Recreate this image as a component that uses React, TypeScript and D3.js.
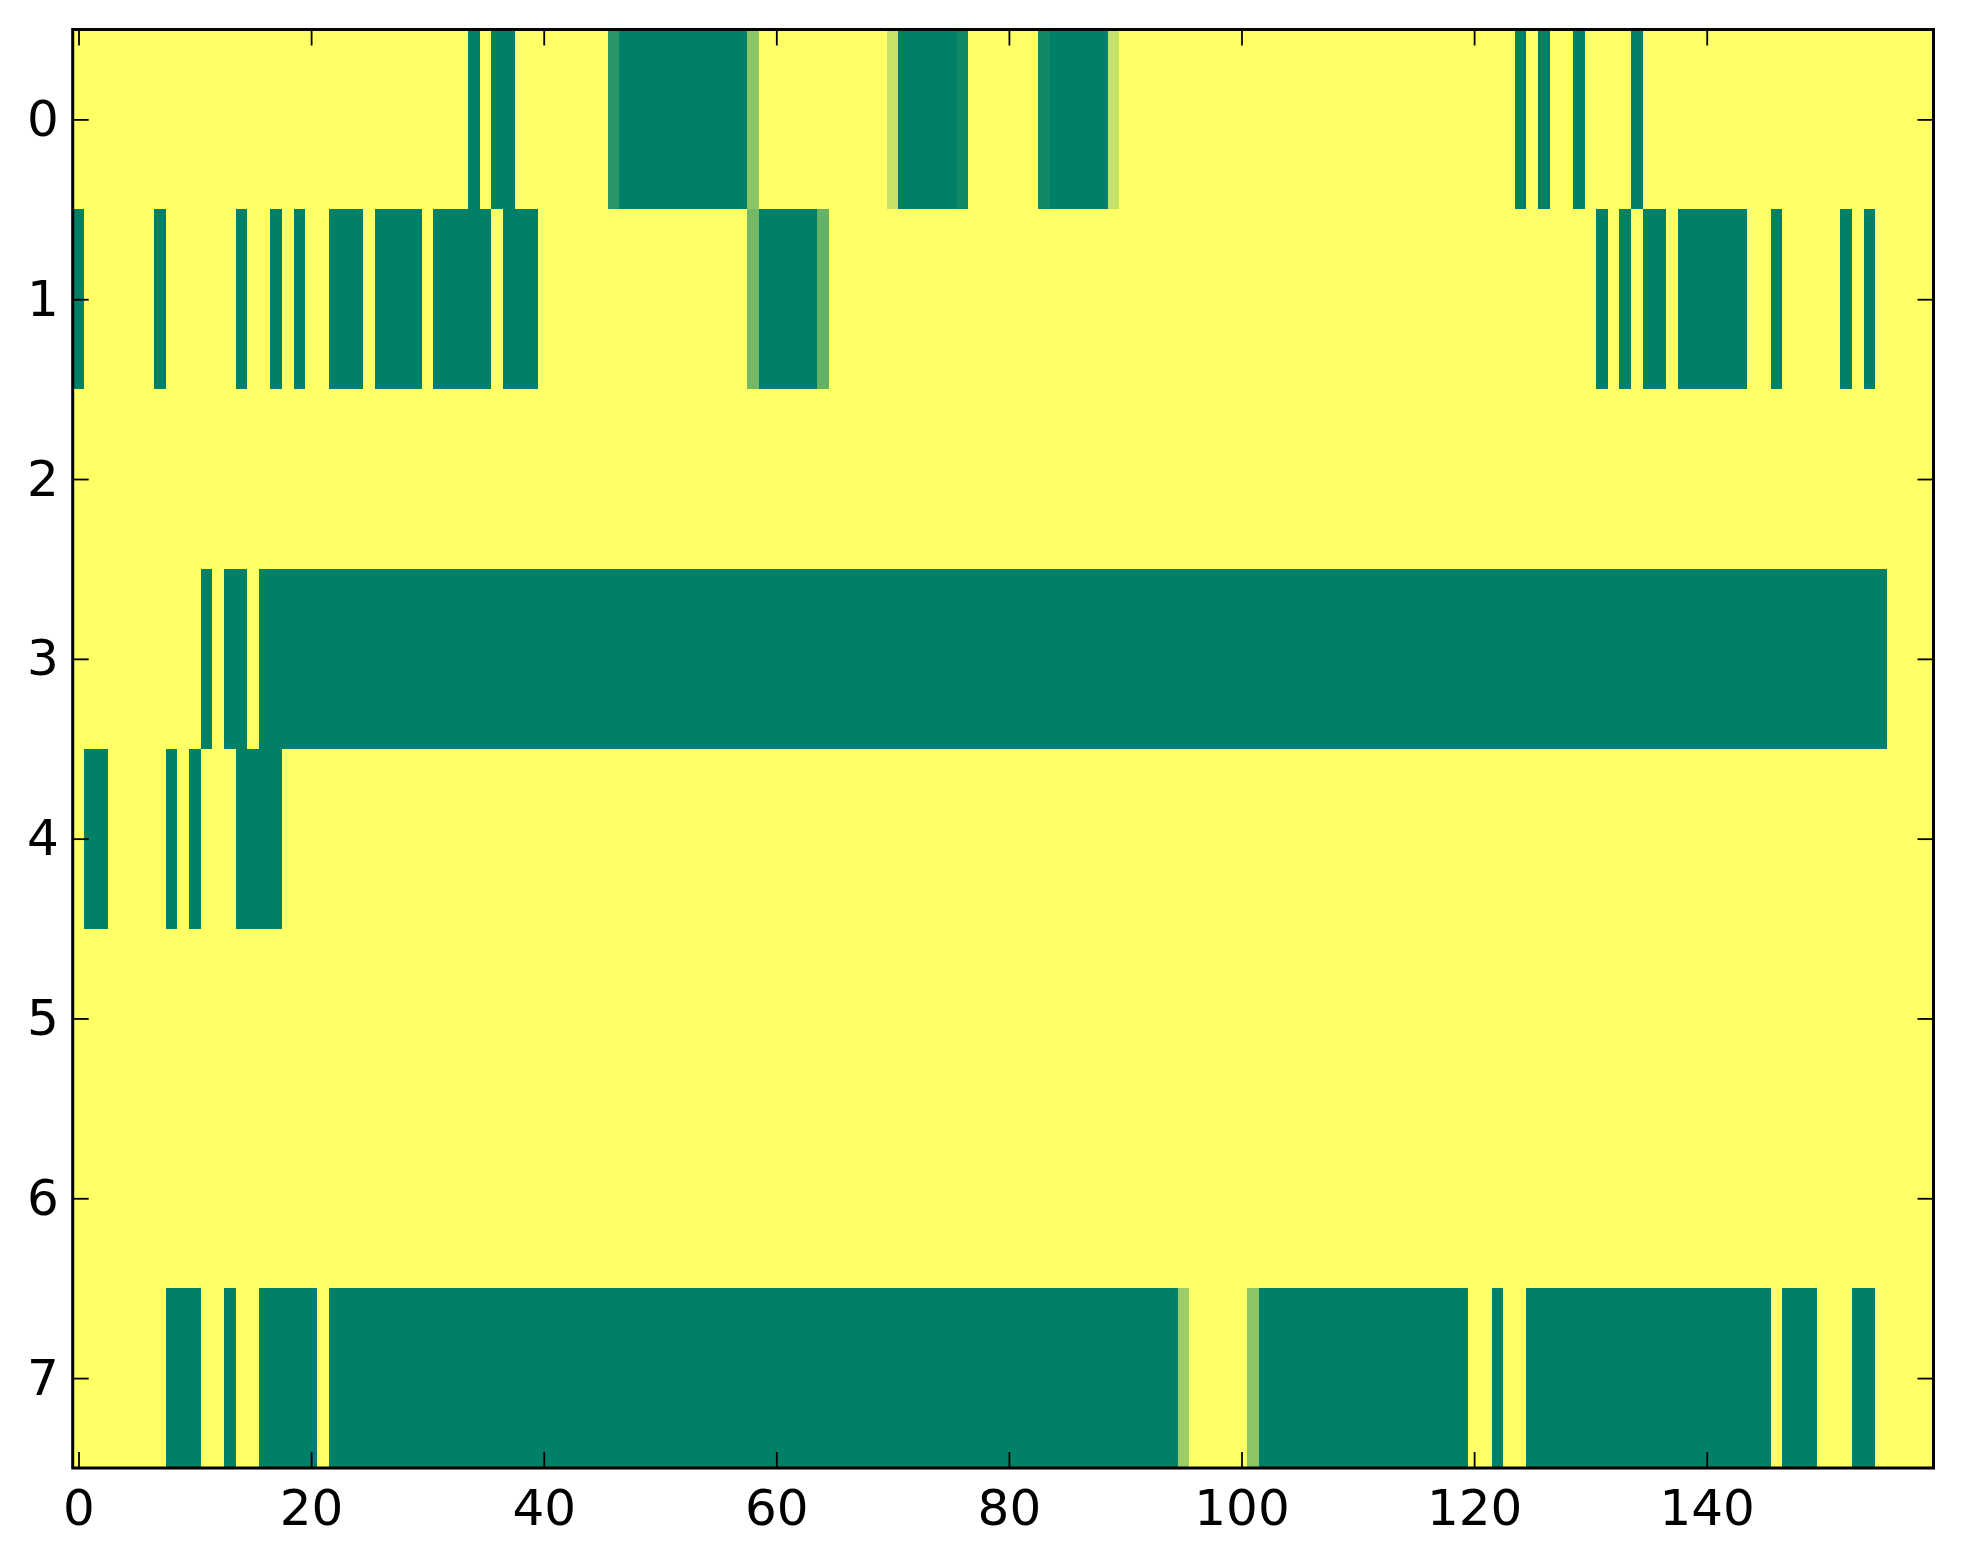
import * as d3 from 'd3';
import React, { useEffect, useRef } from 'react';

// columns 0..159, rows 0..7; each row is a list of [firstCol, lastCol, value], everything else is 0
const nCols = 160;
const rowLabels = [0, 1, 2, 3, 4, 5, 6, 7];
const xTicks = [0, 20, 40, 60, 80, 100, 120, 140];

const row0: [number, number, number][] = [
    [34, 34, 1], [36, 37, 1], [46, 46, 0.835], [47, 57, 1], [58, 58, 0.45],
    [70, 70, 0.23], [71, 75, 1], [76, 76, 0.93], [83, 83, 0.93], [84, 88, 1],
    [89, 89, 0.23], [124, 124, 1], [126, 126, 1], [129, 129, 1], [134, 134, 1],
];
const row1: [number, number, number][] = [
    [0, 0, 1], [7, 7, 1], [14, 14, 1], [17, 17, 1], [19, 19, 1], [22, 24, 1],
    [26, 29, 1], [31, 35, 1], [37, 39, 1], [58, 58, 0.55], [59, 63, 1], [64, 64, 0.61],
    [131, 131, 1], [133, 133, 1], [135, 136, 1], [138, 143, 1], [146, 146, 1],
    [152, 152, 1], [154, 154, 1],
];
const row2: [number, number, number][] = [];
const row3: [number, number, number][] = [[11, 11, 1], [13, 14, 1], [16, 155, 1]];
const row4: [number, number, number][] = [[1, 2, 1], [8, 8, 1], [10, 10, 1], [14, 17, 1]];
const row5: [number, number, number][] = [];
const row6: [number, number, number][] = [];
const row7: [number, number, number][] = [
    [8, 10, 1], [13, 13, 1], [16, 20, 1], [22, 94, 1], [95, 95, 0.39],
    [101, 101, 0.45], [102, 119, 1], [122, 122, 1], [125, 145, 1], [147, 149, 1],
    [153, 154, 1],
];
const rows = [row0, row1, row2, row3, row4, row5, row6, row7];

const W = 1963;
const H = 1564;
const left = 72.7;
const right = 1933.5;
const top = 29.5;
const bottom = 1468;

const App = () => {
    const svgRef = useRef<SVGSVGElement | null>(null);

    useEffect(() => {
        const svg = d3.select(svgRef.current);
        svg.selectAll('*').remove();

        const cells: { r: number; c: number; v: number }[] = [];
        rows.forEach((runs, r) => {
            for (let c = 0; c < nCols; c++) {
                const run = runs.find((e) => c >= e[0] && c <= e[1]);
                cells.push({ r, c, v: run ? run[2] : 0 });
            }
        });

        const x = d3.scaleLinear().domain([-0.5, nCols - 0.5]).range([left, right]);
        const y = d3.scaleLinear().domain([-0.5, rows.length - 0.5]).range([top, bottom]);
        // summer_r
        const color = d3.scaleLinear<string>().domain([0, 1]).range(['#ffff66', '#008066']);

        svg.append('g')
            .selectAll('rect')
            .data(cells)
            .join('rect')
            .attr('x', (d) => x(d.c - 0.5))
            .attr('y', (d) => y(d.r - 0.5))
            .attr('width', x(1) - x(0))
            .attr('height', y(1) - y(0))
            .attr('fill', (d) => color(d.v))
            .attr('shape-rendering', 'crispEdges');

        const style = (g: d3.Selection<SVGGElement, unknown, null, undefined>) => {
            g.select('.domain').remove();
            g.selectAll('.tick line').attr('stroke', '#000').attr('stroke-width', 1.8);
            g.selectAll('.tick text')
                .attr('fill', '#000')
                .attr('font-size', 50)
                .attr('font-family', '"DejaVu Sans", sans-serif');
        };

        svg.append('g')
            .attr('transform', `translate(0,${bottom})`)
            .call(d3.axisBottom(x).tickValues(xTicks).tickSize(-16).tickSizeOuter(0).tickPadding(21))
            .call(style);
        svg.append('g')
            .attr('transform', `translate(0,${top})`)
            .call(d3.axisTop(x).tickValues(xTicks).tickSize(-16).tickSizeOuter(0).tickFormat(() => ''))
            .call(style);
        svg.append('g')
            .attr('transform', `translate(${left},0)`)
            .call(d3.axisLeft(y).tickValues(rowLabels).tickSize(-16).tickSizeOuter(0).tickPadding(14))
            .call(style);
        svg.append('g')
            .attr('transform', `translate(${right},0)`)
            .call(d3.axisRight(y).tickValues(rowLabels).tickSize(-16).tickSizeOuter(0).tickFormat(() => ''))
            .call(style);

        svg.append('rect')
            .attr('x', left)
            .attr('y', top)
            .attr('width', right - left)
            .attr('height', bottom - top)
            .attr('fill', 'none')
            .attr('stroke', '#000')
            .attr('stroke-width', 3);
    });

    return (
        <div style={{ position: 'absolute', left: 0, top: 0 }}>
            <svg ref={svgRef} width={W} height={H} style={{ display: 'block', background: '#fff' }} />
        </div>
    );
};

export default App;
